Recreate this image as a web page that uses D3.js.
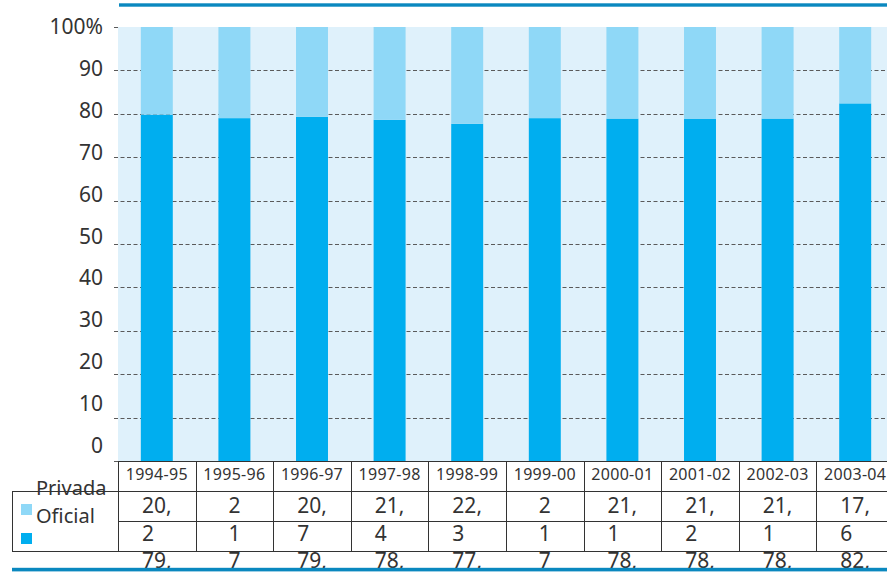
<!DOCTYPE html>
<html>
<head>
<meta charset="utf-8">
<script src="https://cdn.jsdelivr.net/npm/d3@7"></script>
<style>
  html, body { margin: 0; padding: 0; background: #fff; }
  svg { display: block; font-family: "Noto Sans", "DejaVu Sans", sans-serif; }
</style>
</head>
<body>
<svg id="chart" width="887" height="573"></svg>
<script>
// School years shown along the x axis
const years = ["1994-95", "1995-96", "1996-97", "1997-98", "1998-99",
               "1999-00", "2000-01", "2001-02", "2002-03", "2003-04"];
// Share of enrolment (%) by sector
const privada = [20.2, 21, 20.7, 21.4, 22.3, 21, 21.1, 21.2, 21.1, 17.6];
const oficial = [79.8, 79, 79.3, 78.6, 77.7, 79, 78.9, 78.8, 78.9, 82.4];
// Axis tick values and their labels
const tickValues = [0, 10, 20, 30, 40, 50, 60, 70, 80, 90, 100];
const tickLabels = ["0", "10", "20", "30", "40", "50", "60", "70", "80", "90", "100%"];
const seriesNames = ["Privada", "Oficial"];

const colors = { Privada: "#8fd8f7", Oficial: "#00aeef" };
const W = 887, H = 573;
const plotLeft = 118, plotTop = 27, plotBottom = 461;
const step = 77.6;

const svg = d3.select("#chart");

const x = d3.scaleBand()
  .domain(years)
  .range([plotLeft, plotLeft + step * years.length])
  .paddingInner(0.588)
  .paddingOuter(0.294);

const y = d3.scaleLinear().domain([0, 100]).range([plotBottom, plotTop]);
// Labels sit on a slightly compressed ladder beside the grid
const yLabel = d3.scaleLinear().domain([0, 100]).range([445.5, 26.5]);

// Plot background
svg.append("rect")
  .attr("x", plotLeft).attr("y", plotTop)
  .attr("width", W - plotLeft).attr("height", plotBottom - plotTop)
  .attr("fill", "#dff1fb");

// Top rule
svg.append("rect")
  .attr("x", 119).attr("y", 3.3).attr("width", W - 119).attr("height", 3.4)
  .attr("fill", "#0a88bf");

// Dashed gridlines and small ticks
svg.append("g").selectAll("line.grid")
  .data(tickValues.filter(v => v > 0 && v < 100))
  .join("line")
  .attr("x1", 114).attr("x2", W)
  .attr("y1", d => Math.round(y(d)) + 0.5).attr("y2", d => Math.round(y(d)) + 0.5)
  .attr("stroke", "#5a5a5a").attr("stroke-width", 1)
  .attr("stroke-dasharray", "4,2.5");
svg.append("g").selectAll("line.tick")
  .data([0, 100])
  .join("line")
  .attr("x1", 114).attr("x2", 118)
  .attr("y1", d => Math.round(y(d)) + 0.5).attr("y2", d => Math.round(y(d)) + 0.5)
  .attr("stroke", "#5a5a5a").attr("stroke-width", 1);

// Tick labels
svg.append("g").selectAll("text")
  .data(tickValues)
  .join("text")
  .attr("x", 103)
  .attr("y", d => yLabel(d))
  .attr("dy", "0.36em")
  .attr("text-anchor", "end")
  .attr("font-size", 21)
  .attr("fill", "#333")
  .text((d, i) => tickLabels[i]);

// Stacked bars: Oficial at the base, Privada on top
const rows = years.map((yr, i) => ({ year: yr, Oficial: oficial[i], Privada: privada[i] }));
const stack = d3.stack().keys(["Oficial", "Privada"]);
const layers = stack(rows);
svg.append("g").selectAll("g")
  .data(layers)
  .join("g")
  .attr("fill", d => colors[d.key])
  .selectAll("rect")
  .data(d => d)
  .join("rect")
  .attr("x", d => x(d.data.year))
  .attr("width", x.bandwidth())
  .attr("y", d => y(Math.min(d[1], 100)))
  .attr("height", d => y(d[0]) - y(Math.min(d[1], 100)));

// Data table below the plot
const table = svg.append("g");
const colX = i => plotLeft + step * i;
const lineStyle = s => s.attr("stroke", "#333").attr("stroke-width", 1).attr("shape-rendering", "crispEdges");

// Horizontal rules
table.append("line").attr("x1", plotLeft).attr("x2", W).attr("y1", 461.5).attr("y2", 461.5).call(lineStyle);
table.append("line").attr("x1", 12).attr("x2", W).attr("y1", 491.5).attr("y2", 491.5).call(lineStyle);
table.append("line").attr("x1", plotLeft).attr("x2", W).attr("y1", 521.5).attr("y2", 521.5).call(lineStyle);
table.append("line").attr("x1", 12).attr("x2", W).attr("y1", 551.5).attr("y2", 551.5).call(lineStyle);
// Vertical rules
table.append("line").attr("x1", 12.5).attr("x2", 12.5).attr("y1", 491.5).attr("y2", 551.5).call(lineStyle);
table.selectAll("line.col")
  .data(d3.range(years.length + 1))
  .join("line")
  .attr("x1", i => Math.round(colX(i)) + 0.5).attr("x2", i => Math.round(colX(i)) + 0.5)
  .attr("y1", 461.5).attr("y2", 551.5)
  .call(lineStyle);

// Column headers
table.selectAll("text.hdr")
  .data(years)
  .join("text")
  .attr("x", d => x(d) + x.bandwidth() / 2)
  .attr("y", 480)
  .attr("text-anchor", "middle")
  .attr("font-size", 16)
  .attr("letter-spacing", 0.3)
  .attr("fill", "#333")
  .text(d => d);

// Legend
seriesNames.forEach((name, i) => {
  table.append("rect")
    .attr("x", 21).attr("y", 504 + i * 29).attr("width", 11).attr("height", 11)
    .attr("fill", colors[name]);
  table.append("text")
    .attr("x", 36).attr("y", 495 + i * 28)
    .attr("font-size", 20).attr("fill", "#333")
    .text(name);
});

// Cell values wrap narrowly: break after the decimal comma, or per digit
const fmt = v => String(v).replace(".", ",");
function wrapCell(s) {
  const k = s.indexOf(",");
  return k >= 0 ? [s.slice(0, k + 1), s.slice(k + 1)] : s.split("");
}

years.forEach((yr, i) => {
  const lines = wrapCell(fmt(privada[i])).concat(wrapCell(fmt(oficial[i])));
  const cx = x(yr) + x.bandwidth() / 2;
  const t = table.append("text")
    .attr("font-size", 21).attr("fill", "#333");
  lines.slice(0, 3).forEach((ln, j) => {
    t.append("tspan").attr("y", 513 + j * 27.5).text(ln);
  });
  // left-align the lines inside a block centred on the column
  const widths = [];
  t.selectAll("tspan").each(function () { widths.push(this.getComputedTextLength()); });
  const left = cx - d3.max(widths) / 2;
  t.selectAll("tspan").attr("x", left);
});

// Bottom rule
svg.append("rect")
  .attr("x", 12).attr("y", 567.8).attr("width", W - 12).attr("height", 3.6)
  .attr("fill", "#0a88bf");
</script>
</body>
</html>
